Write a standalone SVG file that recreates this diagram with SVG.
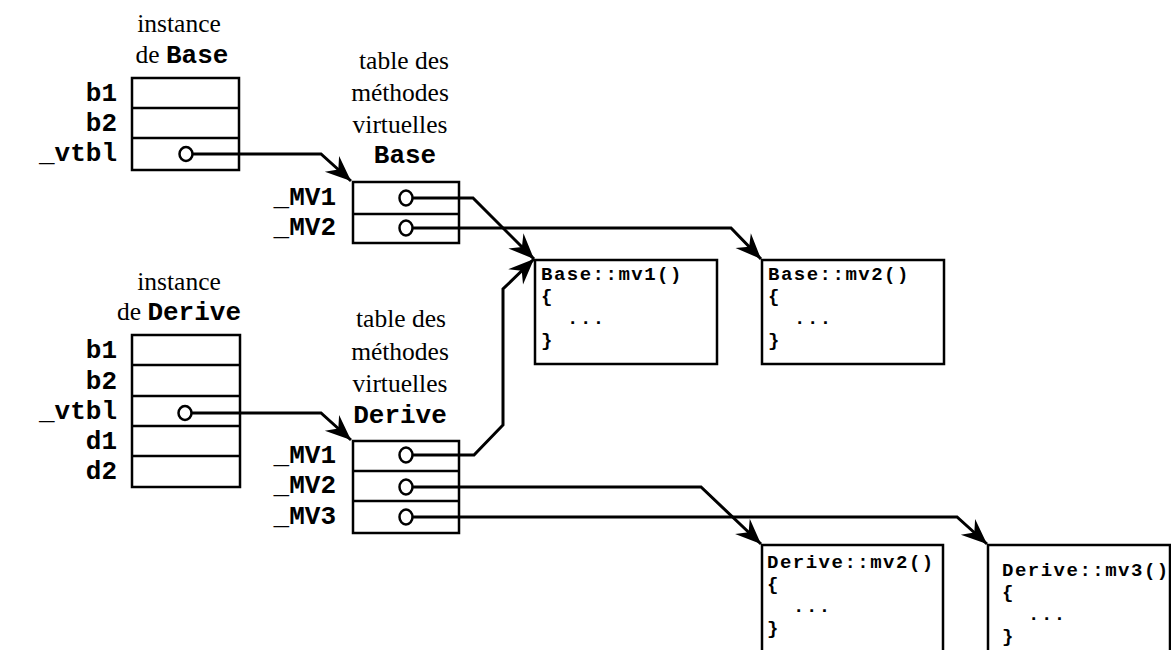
<svg xmlns="http://www.w3.org/2000/svg" width="1171" height="650" viewBox="0 0 1171 650">
<defs>
<style>
.box{fill:#fff;stroke:#000;stroke-width:2.5}
.sep{stroke:#000;stroke-width:2.5}
.ptr{fill:#fff;stroke:#000;stroke-width:2.5}
.lbl{font-family:"Liberation Mono","Courier New",monospace;font-weight:bold;font-size:26px;fill:#000}
.ser{font-family:"Liberation Serif","Times New Roman",serif;font-size:25.5px;fill:#000}
.code{font-family:"Liberation Mono","Courier New",monospace;font-weight:bold;font-size:19px;letter-spacing:1.5px;fill:#000}
.con{fill:none;stroke:#000;stroke-width:3;stroke-linejoin:miter}
</style>
<marker id="arr" markerUnits="userSpaceOnUse" markerWidth="32" markerHeight="32" viewBox="-26 -13 30 26" refX="0" refY="0" orient="auto">
<path d="M0,0 L-24,-10 L-16,0 L-24,10 z" fill="#000"/>
</marker>
</defs>
<rect width="1171" height="650" fill="#fff"/>

<g id="instBase">
<text class="ser" x="179" y="32" text-anchor="middle">instance</text>
<text class="ser" x="182" y="63" text-anchor="middle">de <tspan class="lbl">Base</tspan></text>
<rect class="box" x="132" y="78" width="107" height="92"/>
<line class="sep" x1="132" y1="108" x2="239" y2="108"/>
<line class="sep" x1="132" y1="138" x2="239" y2="138"/>
<text class="lbl" x="117" y="101" text-anchor="end">b1</text>
<text class="lbl" x="117" y="131" text-anchor="end">b2</text>
<text class="lbl" x="117" y="161" text-anchor="end">_vtbl</text>
</g>

<g id="vtblBase">
<text class="ser" x="404" y="69" text-anchor="middle">table des</text>
<text class="ser" x="400" y="101" text-anchor="middle">méthodes</text>
<text class="ser" x="400" y="133" text-anchor="middle">virtuelles</text>
<text class="lbl" x="405" y="163" text-anchor="middle">Base</text>
<rect class="box" x="353" y="182" width="106" height="61"/>
<line class="sep" x1="353" y1="214" x2="459" y2="214"/>
<text class="lbl" x="336" y="205" text-anchor="end">_MV1</text>
<text class="lbl" x="336" y="235" text-anchor="end">_MV2</text>
</g>

<g id="instDerive">
<text class="ser" x="179" y="290" text-anchor="middle">instance</text>
<text class="ser" x="179" y="320" text-anchor="middle">de <tspan class="lbl">Derive</tspan></text>
<rect class="box" x="132" y="335" width="108" height="152"/>
<line class="sep" x1="132" y1="365" x2="240" y2="365"/>
<line class="sep" x1="132" y1="396" x2="240" y2="396"/>
<line class="sep" x1="132" y1="426" x2="240" y2="426"/>
<line class="sep" x1="132" y1="456" x2="240" y2="456"/>
<text class="lbl" x="117" y="358" text-anchor="end">b1</text>
<text class="lbl" x="117" y="389" text-anchor="end">b2</text>
<text class="lbl" x="117" y="419" text-anchor="end">_vtbl</text>
<text class="lbl" x="117" y="449" text-anchor="end">d1</text>
<text class="lbl" x="117" y="479" text-anchor="end">d2</text>
</g>

<g id="vtblDerive">
<text class="ser" x="401" y="327" text-anchor="middle">table des</text>
<text class="ser" x="400" y="360" text-anchor="middle">méthodes</text>
<text class="ser" x="400" y="392" text-anchor="middle">virtuelles</text>
<text class="lbl" x="400" y="423" text-anchor="middle">Derive</text>
<rect class="box" x="353" y="441" width="106" height="92"/>
<line class="sep" x1="353" y1="471" x2="459" y2="471"/>
<line class="sep" x1="353" y1="501" x2="459" y2="501"/>
<text class="lbl" x="336" y="463" text-anchor="end">_MV1</text>
<text class="lbl" x="336" y="493" text-anchor="end">_MV2</text>
<text class="lbl" x="336" y="524" text-anchor="end">_MV3</text>
</g>

<g id="baseMv1">
<rect class="box" x="535" y="260" width="182" height="104"/>
<text class="code" x="541" y="280">Base::mv1()<tspan x="541" y="302">{</tspan><tspan x="567" y="324">...</tspan><tspan x="541" y="346">}</tspan></text>
</g>

<g id="baseMv2">
<rect class="box" x="762" y="260" width="182" height="104"/>
<text class="code" x="768" y="280">Base::mv2()<tspan x="768" y="302">{</tspan><tspan x="794" y="324">...</tspan><tspan x="768" y="346">}</tspan></text>
</g>

<g id="deriveMv2">
<rect class="box" x="762" y="545" width="181" height="110"/>
<text class="code" x="767" y="568">Derive::mv2()<tspan x="767" y="590">{</tspan><tspan x="793" y="612">...</tspan><tspan x="767" y="634">}</tspan></text>
</g>

<g id="deriveMv3">
<rect class="box" x="988" y="545" width="182" height="110"/>
<text class="code" x="1002" y="576">Derive::mv3()<tspan x="1002" y="598">{</tspan><tspan x="1028" y="620">...</tspan><tspan x="1002" y="642">}</tspan></text>
</g>

<g id="connectors">
<path class="con" d="M192,154 H321 L351,181" marker-end="url(#arr)"/>
<path class="con" d="M191,413 H321 L351,440" marker-end="url(#arr)"/>
<path class="con" d="M413,198 H473 L534,259" marker-end="url(#arr)"/>
<path class="con" d="M413,228 H731 L761,259" marker-end="url(#arr)"/>
<path class="con" d="M413,455 H474 L503,425 V289 L534,259" marker-end="url(#arr)"/>
<path class="con" d="M413,487 H701 L761,544" marker-end="url(#arr)"/>
<path class="con" d="M413,517 H957 L987,544" marker-end="url(#arr)"/>
<ellipse class="ptr" cx="186" cy="154" rx="6.5" ry="7"/>
<ellipse class="ptr" cx="185" cy="413" rx="6.5" ry="7"/>
<ellipse class="ptr" cx="406" cy="198" rx="6.5" ry="7.5"/>
<ellipse class="ptr" cx="406" cy="228" rx="6.5" ry="7.5"/>
<ellipse class="ptr" cx="406" cy="455" rx="6.5" ry="7.5"/>
<ellipse class="ptr" cx="406" cy="487" rx="6.5" ry="7.5"/>
<ellipse class="ptr" cx="406" cy="517" rx="6.5" ry="7.5"/>
</g>
</svg>
